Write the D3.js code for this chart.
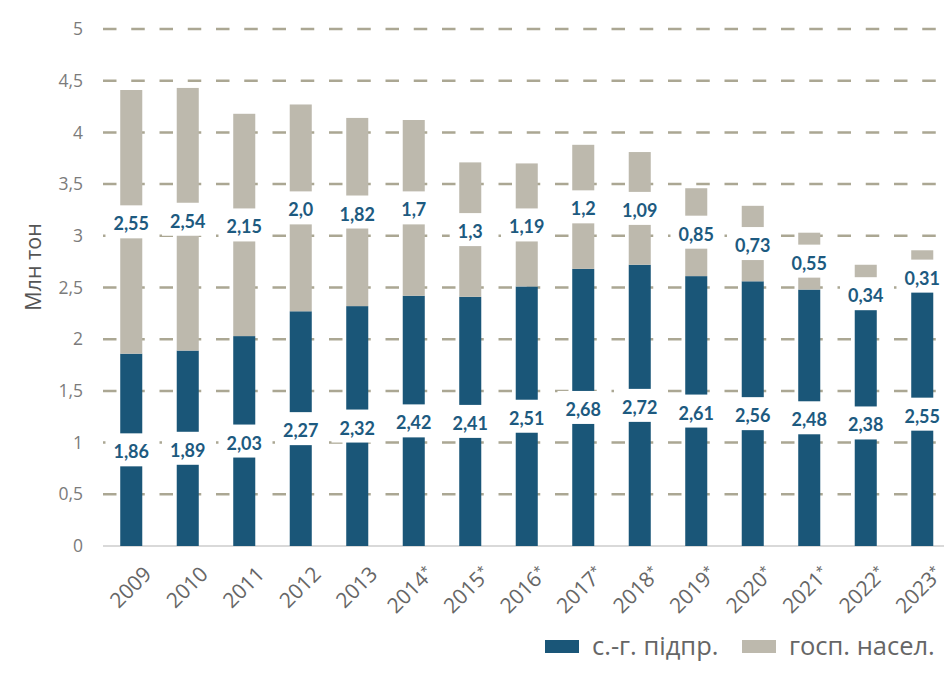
<!DOCTYPE html>
<html>
<head>
<meta charset="utf-8">
<script src="https://cdn.jsdelivr.net/npm/d3@7"></script>
<style>
  body { margin: 0; background: #fff; }
  svg { display: block; }
</style>
</head>
<body>
<svg id="chart" width="944" height="673"></svg>
<script>
// data
var years = ["2009", "2010", "2011", "2012", "2013", "2014", "2015", "2016",
             "2017", "2018", "2019", "2020", "2021", "2022", "2023"];
var estimated = [false, false, false, false, false, true, true, true,
                 true, true, true, true, true, true, true];
var enterprises = [1.86, 1.89, 2.03, 2.27, 2.32, 2.42, 2.41, 2.51, 2.68, 2.72, 2.61, 2.56, 2.48, 2.38, 2.55];
var households = [2.55, 2.54, 2.15, 2.0, 1.82, 1.7, 1.3, 1.19, 1.2, 1.09, 0.85, 0.73, 0.55, 0.34, 0.31];
var yTicks = [0, 0.5, 1, 1.5, 2, 2.5, 3, 3.5, 4, 4.5, 5];
var seriesNames = ["с.-г. підпр.", "госп. насел."];

var colors = { dark: "#1a5678", light: "#bdb9ad", grid: "#aba793", label: "#1d5a80" };

var svg = d3.select("#chart");

var x = d3.scaleBand()
    .domain(years)
    .range([103, 950.5])
    .paddingInner(0.61)
    .paddingOuter(0.305);

var y = d3.scaleLinear()
    .domain([0, 5])
    .range([546, 29]);

function fmt(v) {
    return String(v).replace(".", ",");
}

// bar labels keep one decimal for whole numbers (2,0)
function fmtLabel(v) {
    var s = (v % 1 === 0) ? v.toFixed(1) : String(v);
    return s.replace(".", ",");
}

function stringWidth(string) {
    var t = svg.append("text")
        .style("font-family", "Lato, 'Open Sans', sans-serif")
        .style("font-weight", 700)
        .style("font-size", "18px")
        .style("opacity", 0)
        .text(string);
    var w = t.node().getComputedTextLength();
    t.remove();
    return w;
}

// grid
svg.append("g")
    .selectAll("line")
    .data(yTicks.filter(function(d) { return d > 0; }))
    .enter().append("line")
    .attr("x1", 103)
    .attr("x2", 944)
    .attr("y1", function(d) { return y(d); })
    .attr("y2", function(d) { return y(d); })
    .attr("stroke", colors.grid)
    .attr("stroke-width", 2.5)
    .attr("stroke-dasharray", "13.5,14.75");

svg.append("line")
    .attr("x1", 103).attr("x2", 944)
    .attr("y1", y(0)).attr("y2", y(0))
    .attr("stroke", "#d9d9d9")
    .attr("stroke-width", 2);

// y tick labels
var yAxis = svg.append("g")
    .attr("transform", "translate(83,0)")
    .call(d3.axisLeft(y).tickValues(yTicks).tickSize(0).tickPadding(0).tickFormat(fmt));
yAxis.select(".domain").remove();
yAxis.selectAll("text")
    .style("font-family", "'Open Sans', sans-serif")
    .style("font-size", "17.5px")
    .attr("fill", "#7b7b7b");

svg.append("text")
    .attr("transform", "translate(41,267) rotate(-90)")
    .attr("text-anchor", "middle")
    .style("font-family", "'Open Sans', sans-serif")
    .style("font-size", "21.5px")
    .attr("fill", "#555")
    .text("Млн тон");

// bars
var bw = x.bandwidth();
var bars = svg.append("g");

bars.selectAll("rect.dark")
    .data(years)
    .enter().append("rect")
    .attr("class", "dark")
    .attr("x", function(d) { return x(d); })
    .attr("width", bw)
    .attr("y", function(d, i) { return y(enterprises[i]); })
    .attr("height", function(d, i) { return y(0) - y(enterprises[i]); })
    .attr("fill", colors.dark);

bars.selectAll("rect.light")
    .data(years)
    .enter().append("rect")
    .attr("class", "light")
    .attr("x", function(d) { return x(d); })
    .attr("width", bw)
    .attr("y", function(d, i) { return y(enterprises[i] + households[i]); })
    .attr("height", function(d, i) { return y(enterprises[i]) - y(enterprises[i] + households[i]); })
    .attr("fill", colors.light);

// value labels on white boxes
var labels = [];
years.forEach(function(d, i) {
    labels.push({ year: d, text: fmtLabel(enterprises[i]), v: enterprises[i] / 2 });
    var mid = enterprises[i] + households[i] / 2;
    if (households[i] < 0.4) mid = enterprises[i] + 0.06;
    labels.push({ year: d, text: fmtLabel(households[i]), v: mid });
});

var lg = svg.append("g");
labels.forEach(function(l) {
    var cx = x(l.year) + bw / 2;
    var cy = y(l.v);
    var w = stringWidth(l.text) + 16;
    lg.append("rect")
        .attr("x", cx - w / 2)
        .attr("y", cy - 16.5)
        .attr("width", w)
        .attr("height", 33)
        .attr("fill", "#fff");
    lg.append("text")
        .attr("x", cx)
        .attr("y", cy + 8.5)
        .attr("text-anchor", "middle")
        .style("font-family", "Lato, 'Open Sans', sans-serif")
        .style("font-weight", 700)
        .style("font-size", "18px")
        .attr("fill", colors.label)
        .text(l.text);
});

// x labels
var xl = svg.append("g").selectAll("text")
    .data(years)
    .enter().append("text")
    .attr("transform", function(d) {
        return "translate(" + (x(d) + bw / 2 + 11) + ",565) rotate(-45)";
    })
    .attr("text-anchor", "end")
    .attr("dy", "0.7em")
    .style("font-family", "'Open Sans', sans-serif")
    .style("font-size", "21px")
    .attr("fill", "#666");

xl.append("tspan").text(function(d) { return d; });
xl.filter(function(d, i) { return estimated[i]; })
    .append("tspan")
    .attr("dy", "-0.45em")
    .style("font-size", "13px")
    .text("*");

// legend
var legend = svg.append("g");
var legendItems = [
    { name: seriesNames[0], color: colors.dark, x: 545 },
    { name: seriesNames[1], color: colors.light, x: 742 }
];
legendItems.forEach(function(it) {
    legend.append("rect")
        .attr("x", it.x).attr("y", 640)
        .attr("width", 34).attr("height", 13)
        .attr("fill", it.color);
    legend.append("text")
        .attr("x", it.x + 47).attr("y", 655)
        .style("font-family", "'Open Sans', sans-serif")
        .style("font-size", "25.5px")
        .attr("fill", "#666")
        .text(it.name);
});
</script>
</body>
</html>
